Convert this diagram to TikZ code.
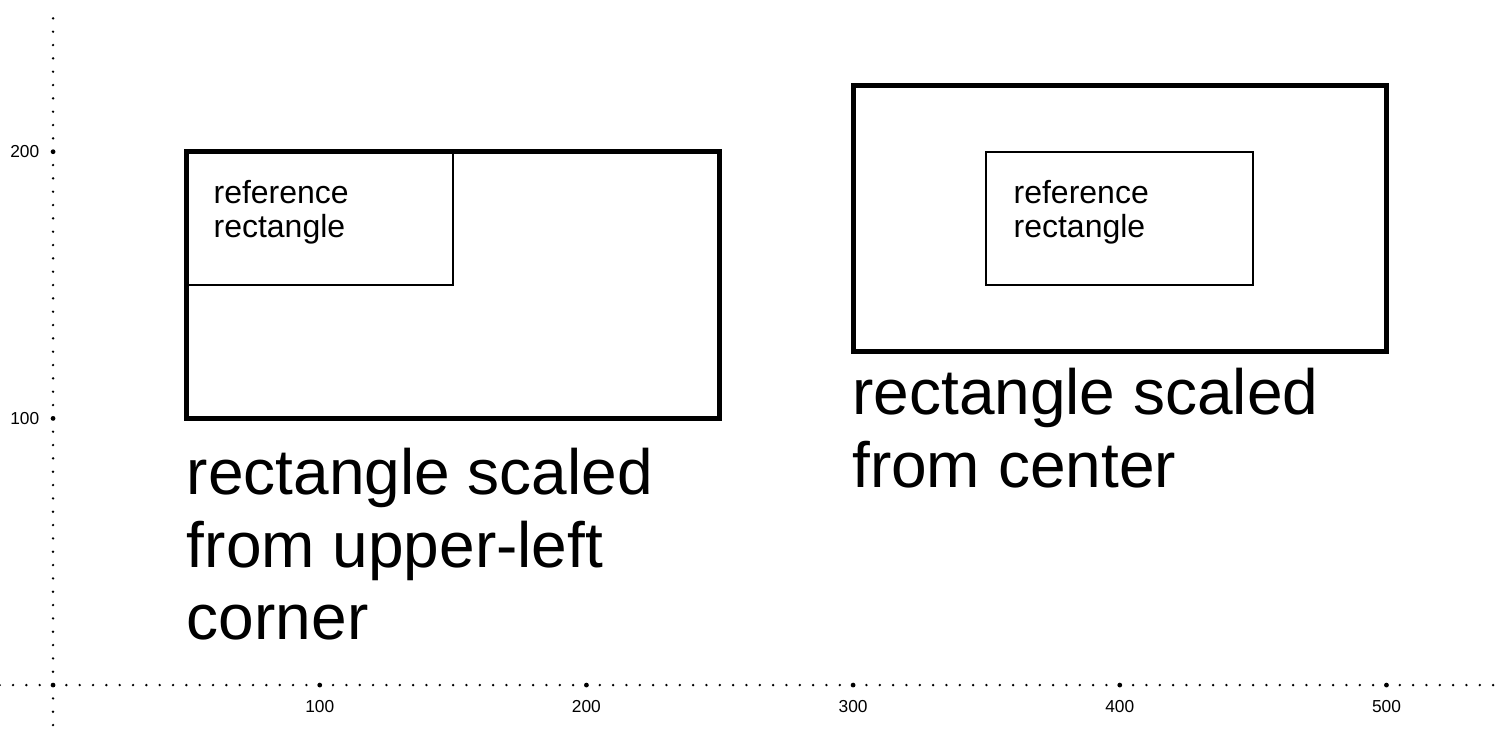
\documentclass[tikz,border=0pt]{standalone}
\usepackage{fontspec}
\setmainfont{Liberation Sans}
\usetikzlibrary{positioning}
\tikzset{
  rect1/.style = {
    draw = black, line width = 0.75pt,
  },
  rect2/.style = {
    draw = black, line width = 1.9pt,
  },
  text1/.style = {
    anchor = north west, inner sep = 0pt, align = left,
    font = \fontsize{12}{12.6}\selectfont,
  },
  text2/.style = {
    anchor = north west, inner sep = 0pt, align = left,
    font = \fontsize{24}{27.2}\selectfont,
  },
  tick1/.style = {
    inner sep = 0pt, font = \fontsize{6.5}{7}\selectfont,
  }
}

\begin{document}
\begin{tikzpicture}[x = 1pt, y = 1pt]
        \useasboundingbox (-19.9,-17.6) rectangle (540.7,256.9);
        % dotted axes
        \foreach \i in {-20,-15,...,540}
            \fill (\i,0) circle (0.5pt);
        \foreach \j in {-15,-10,...,250}
            \fill (0,\j) circle (0.5pt);
        \foreach \i in {0,100,...,500}
            \fill (\i,0) circle (0.9pt);
        \fill (0,100) circle (0.9pt);
        \fill (0,200) circle (0.9pt);
        \foreach \i in {100,200,...,500}
            \node[tick1](x\i) at (\i,-8) {\i};
        \node[tick1, anchor = east](y100) at (-5,100) {100};
        \node[tick1, anchor = east](y200) at (-5,200) {200};
        % scaled from upper-left corner
        \draw[rect2] (50,100) rectangle (250,200);
        \draw[rect1] (50,150) rectangle (150,200);
        \node[text1](ref1) at (60,189.5) {reference\\rectangle};
        \node[text2](cap1) at (50,89) {rectangle scaled\\from upper-left\\corner};
        % scaled from center
        \draw[rect2] (300,125) rectangle (500,225);
        \draw[rect1] (350,150) rectangle (450,200);
        \node[text1](ref2) at (360,189.5) {reference\\rectangle};
        \node[text2](cap2) at (299.5,119) {rectangle scaled\\from center};
    \end{tikzpicture}
\end{document}
